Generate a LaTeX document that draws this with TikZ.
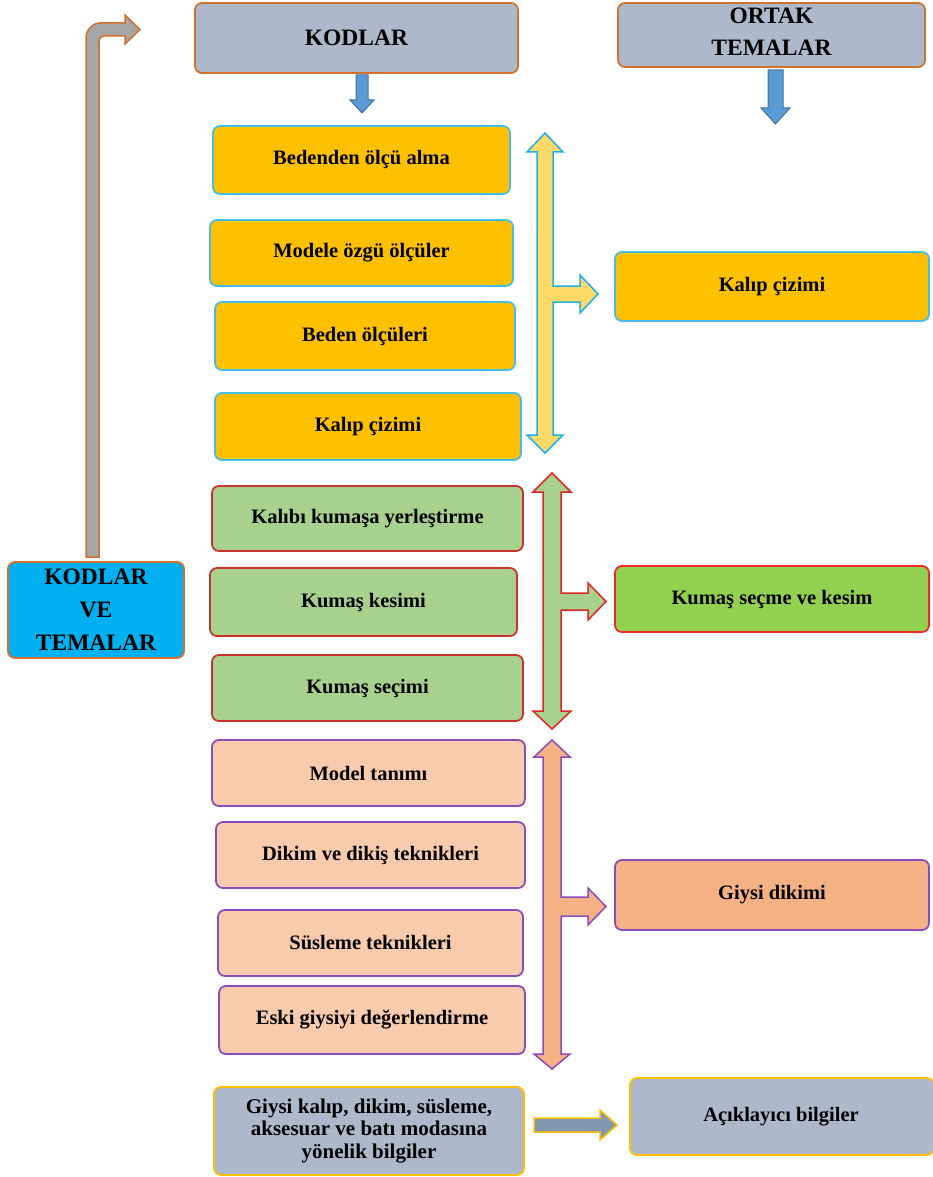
\documentclass[tikz,border=0pt]{standalone}
\usepackage{fontspec}
\setmainfont{Liberation Serif}
\definecolor{hdrfill}{HTML}{ADB9CA}
\definecolor{orgline}{HTML}{D2702C}
\definecolor{ybfill}{HTML}{FFC000}
\definecolor{ybline}{HTML}{45BDE6}
\definecolor{yafill}{HTML}{FFD966}
\definecolor{yaline}{HTML}{1CB0EC}
\definecolor{gbfill}{HTML}{A9D18E}
\definecolor{gbline}{HTML}{C8322D}
\definecolor{garline}{HTML}{E02424}
\definecolor{kgfill}{HTML}{92D050}
\definecolor{kgline}{HTML}{F02A2A}
\definecolor{obfill}{HTML}{F8CBAD}
\definecolor{obline}{HTML}{8A4CBC}
\definecolor{oafill}{HTML}{F4B183}
\definecolor{kvtfill}{HTML}{00B0F0}
\definecolor{blfill}{HTML}{5B9BD5}
\definecolor{blline}{HTML}{41719C}
\definecolor{bentfill}{HTML}{A6A6A6}
\definecolor{botarr}{HTML}{8497B0}
\tikzset{
  box/.style={rounded corners=7pt, line width=1.8pt, align=center,
    font=\fontsize{20.5}{26}\selectfont\bfseries, inner sep=2pt},
  hdr/.style={box, fill=hdrfill, draw=orgline, font=\fontsize{23.5}{33}\selectfont\bfseries},
  ybox/.style={box, fill=ybfill, draw=ybline},
  gbox/.style={box, fill=gbfill, draw=gbline},
  obox/.style={box, fill=obfill, draw=obline},
  bbox/.style={box, fill=hdrfill, draw=ybfill},
  fatarrow/.style={line width=1.5pt, line join=miter},
}
\begin{document}
\begin{tikzpicture}[x=1pt,y=-1pt]
\useasboundingbox (0,0) rectangle (932,1177);

% headers
\node[hdr, minimum width=323pt, minimum height=70pt] (kod) at (356.5,38) {KODLAR};
\node[hdr, minimum width=307pt, minimum height=64pt] (ort) at (771.5,35) {};
\node[font=\fontsize{23.5}{33}\selectfont\bfseries, align=center] (orttxt) at (771.5,32) {ORTAK\\[-1pt]TEMALAR};

% blue down arrows
\draw[fatarrow, fill=blfill, draw=blline, line width=1pt]
  (356,75) -- (368,75) -- (368,100) -- (374,100) -- (362,113) -- (350,100) -- (356,100) -- cycle;
\draw[fatarrow, fill=blfill, draw=blline, line width=1pt]
  (768,70) -- (783,70) -- (783,108) -- (790,108) -- (775.5,124) -- (761,108) -- (768,108) -- cycle;

% yellow group
\node[ybox, minimum width=297pt, minimum height=68pt] (y1) at (361.5,160) {Bedenden ölçü alma};
\node[ybox, minimum width=303pt, minimum height=66pt] (y2) at (361.5,253) {Modele özgü ölçüler};
\node[ybox, minimum width=300pt, minimum height=68pt] (y3) at (365,336) {Beden ölçüleri};
\node[ybox, minimum width=306pt, minimum height=67pt] (y4) at (368,426.5) {Kalıp çizimi};
\node[ybox, minimum width=314pt, minimum height=69pt] (kalip) at (772,286.5) {Kalıp çizimi};
\draw[fatarrow, fill=yafill, draw=yaline]
  (545,133) -- (563,152) -- (553,152) -- (553,286) -- (580,286) -- (580,275) -- (598,294)
  -- (580,313) -- (580,302) -- (553,302) -- (553,435) -- (563,435) -- (545,453)
  -- (527,435) -- (537,435) -- (537,152) -- (527,152) -- cycle;

% green group
\node[gbox, minimum width=311pt, minimum height=65pt] (g1) at (367.5,518.5) {Kalıbı kumaşa yerleştirme};
\node[gbox, minimum width=307pt, minimum height=68pt] (g2) at (363.5,602) {Kumaş kesimi};
\node[gbox, minimum width=311pt, minimum height=66pt] (g3) at (367.5,688) {Kumaş seçimi};
\node[box, fill=kgfill, draw=kgline, minimum width=314pt, minimum height=66pt] (kumas) at (772,599) {Kumaş seçme ve kesim};
\draw[fatarrow, fill=gbfill, draw=garline]
  (552,473) -- (571,492) -- (561,492) -- (561,593) -- (588,593) -- (588,583) -- (606,601.5)
  -- (588,620) -- (588,610) -- (561,610) -- (561,711) -- (571,711) -- (552,729)
  -- (533,711) -- (543,711) -- (543,492) -- (533,492) -- cycle;

% orange group
\node[obox, minimum width=313pt, minimum height=66pt] (o1) at (368.5,773) {Model tanımı};
\node[obox, minimum width=309pt, minimum height=66pt] (o2) at (370.5,855) {Dikim ve dikiş teknikleri};
\node[obox, minimum width=305pt, minimum height=66pt] (o3) at (370.5,943) {Süsleme teknikleri};
\node[obox, minimum width=306pt, minimum height=68pt] (o4) at (372,1020) {Eski giysiyi değerlendirme};
\node[box, fill=oafill, draw=obline, minimum width=314pt, minimum height=70pt] (giysi) at (772,895) {Giysi dikimi};
\draw[fatarrow, fill=oafill, draw=obline]
  (552,740) -- (570,757) -- (561,757) -- (561,897) -- (588,897) -- (588,888) -- (606,906.5)
  -- (588,925) -- (588,916) -- (561,916) -- (561,1054) -- (570,1054) -- (552,1069)
  -- (534,1054) -- (543,1054) -- (543,757) -- (534,757) -- cycle;

% bottom row
\node[bbox, minimum width=310pt, minimum height=88pt, font=\fontsize{21}{22.5}\selectfont\bfseries] (info) at (369,1131)
  {Giysi kalıp, dikim, süsleme,\\aksesuar ve batı modasına\\yönelik bilgiler};
\node[bbox, minimum width=304pt, minimum height=77pt] (acik) at (782,1116.5) {};
\node[font=\fontsize{20.5}{26}\selectfont\bfseries] (aciktxt) at (781,1116.5) {Açıklayıcı bilgiler};
\draw[fatarrow, fill=botarr, draw=ybfill]
  (534,1118) -- (600,1118) -- (600,1110) -- (617,1125) -- (600,1140) -- (600,1132) -- (534,1132) -- cycle;

% left box and bent arrow
\node[box, fill=kvtfill, draw=orgline, minimum width=176pt, minimum height=96pt,
  font=\fontsize{23.5}{33}\selectfont\bfseries] (kvt) at (96,610) {KODLAR\\VE\\TEMALAR};
\draw[fatarrow, fill=bentfill, draw=orgline]
  (86,557) -- (86,38) .. controls (86,30.3) and (92.3,23) .. (100,23) -- (125,23) -- (125,15)
  -- (140,29.5) -- (125,44) -- (125,36) -- (104,36) .. controls (101,36) and (99,38) .. (99,41)
  -- (99,557) -- cycle;
\end{tikzpicture}
\end{document}
